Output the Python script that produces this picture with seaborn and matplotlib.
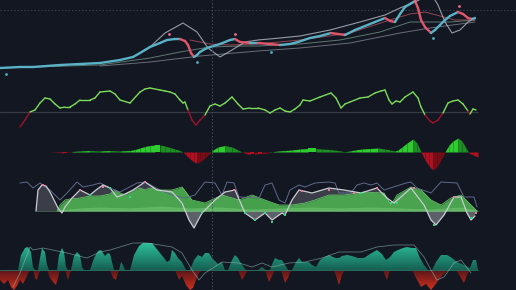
import numpy as np
import matplotlib
matplotlib.use("Agg")
import matplotlib.pyplot as plt
import seaborn as sns
from matplotlib.colors import LinearSegmentedColormap

BG = "#131722"

# ---------------- data ----------------
# Panel 1: price (height units) and moving averages
price_x = [0,20,33,60,100,120,133,140,145,150,160,167,175,180,185,188,191,194,197,200,205,210,220,230,235,240,250,258,270,280,290,298,310,320,331,338,345,355,365,375,385,390,395,400,405,410,415,418,421,425,431,435,440,445,450,458,463,468,472,475]
price_v = [12,13,13,15,17,20,23,27,30,33,37,40,41,41,39,35,27,23,25,28,31,33,36,40,41,38,37,37,36,35,36,38,42,44,47,46,45,50,54,58,62,59,58,66,73,76,79,72,60,53,47,50,55,60,64,68,66,62,61,62]

ma1_x = [150,165,183,197,208,220,232,245,258,280,300,330,360,385,400,415,425,432,438,445,452,460,468,475]
ma1_v = [33,47,57,48,32,23,30,38,40,42,44,50,58,65,72,78,83,85,75,58,47,50,58,62]
ma2_x = [0,100,150,180,210,240,258,300,340,380,410,430,450,475]
ma2_v = [12,15,22,28,33,34,34,36,40,48,58,58,58,60]
ma3_x = [100,150,200,258,300,350,400,430,475]
ma3_v = [14,18,24,29,32,37,47,52,58]
ma4_x = [190,210,230,258,300,350,390,410,425,440,455,475]
ma4_v = [40,36,35,36,40,47,60,66,68,64,60,60]

dot_x = [6,169,197,235,271,415,433,459]
dot_v = [6,46,18,46,28,79,42,74]
dot_kind = ["up","dn","up","dn","up","dn","up","dn"]

# Panel 2: oscillator
osc_x = [20,25,30,35,40,45,50,55,60,65,70,75,80,90,95,100,110,115,120,130,140,145,150,160,165,170,175,180,183,185,188,192,196,200,205,210,215,220,225,232,238,243,250,258,265,270,275,280,285,290,295,300,303,310,320,331,336,341,345,350,360,368,375,381,385,389,392,396,400,405,413,418,421,425,430,433,438,443,448,453,458,463,468,470,473,476]
osc_v = [-15,-8,0,2,9,14,13,8,4,5,5,8,12,12,14,20,21,18,12,9,20,23,24,22,21,20,18,12,9,10,2,-8,-13,-8,-3,6,8,6,9,15,8,3,4,4,2,-1,2,4,1,0,3,7,12,11,15,19,14,4,8,10,14,15,19,21,22,12,8,11,10,15,20,14,5,-3,-9,-11,-8,-1,9,11,12,8,1,-2,3,2]

# Panel 3: histogram
hist_x = [50,58,63,67,72,80,90,100,110,120,130,135,140,145,150,155,160,165,170,175,180,183,186,190,194,197,200,205,210,213,218,225,232,238,242,246,250,254,258,262,266,270,274,278,285,292,300,308,316,322,330,338,345,350,355,362,370,378,385,390,395,398,402,407,413,417,421,425,429,433,437,441,445,449,453,458,462,466,469,473,478]
hist_v = [0,-0.5,-1,-1,0.5,1,1.5,1,1.5,1,1.5,2.5,4,5.5,6.5,7,7,6,4.5,3,1.5,0,-3,-7,-10,-11,-10,-6,-1,2,5,6.5,5,2,0,-1.5,-2.5,-2.5,-2,-2,-1.5,-0.5,0.5,1,1.5,2,3,3.5,3.5,3,2.5,1.5,0.3,1,2,3,3.5,4,3,2,1,2,5,9,13,9,0,-8,-14,-18,-15,-8,0,7,11,14,11,4,-1,-3,-5]

# Panel 4: trend area + lines
green_x = [57,60,65,70,80,90,100,110,115,120,125,130,140,145,150,160,172,182,192,205,222,239,252,265,279,292,305,315,329,344,364,384,391,397,411,421,431,441,451,461,471,477]
green_v = [0,6,11,12,13,15,15,17,21,18,16,19,23,21,23,21,21,24,11,8,16,11,16,11,6,6,8,11,16,16,19,18,6,16,24,21,11,6,13,16,6,0]
lgreen_x = [57,80,100,130,160,190,220,250,280,310,340,370,400,430,460,478]
lgreen_v = [1,3,4,3,5,3,4,2,3,4,3,4,3,2,4,1]
white_x = [36,38,42,46,50,54,58,62,65,72,80,90,96,103,110,117,125,133,145,157,172,182,189,194,202,215,225,235,245,255,265,272,282,285,292,299,312,329,344,361,377,387,394,401,411,424,431,436,444,454,461,467,471,475]
white_v = [0,21,26,25,19,11,3,-2,4,13,21,16,21,26,23,14,17,21,29,21,19,8,-9,-17,-2,11,19,21,-2,-9,-2,-9,-2,-4,11,21,18,23,21,18,23,13,8,14,23,6,-9,-14,-4,14,14,-2,-9,-5]
slate_x = [20,27,33,40,50,60,67,77,83,93,100,110,120,137,145,160,172,185,195,205,215,222,227,234,239,259,265,272,279,285,290,299,305,315,329,335,339,351,357,364,371,377,384,406,411,417,431,441,457,464,474,477]
slate_v = [28,29,23,28,21,11,18,29,24,26,28,23,19,28,29,21,16,13,16,29,28,16,29,28,14,13,26,28,11,8,21,26,24,28,29,28,18,18,26,28,26,28,21,28,29,23,18,29,28,14,14,4]
mk_pink_x = [43,80,103,145,234,302,329,354,377,414,454,476]
mk_pink_v = [26,21,24,29,21,20,21,18,23,23,14,-2]
mk_green_x = [90,110,130,202,245,255,265,272,285,361,391,397,434,471]
mk_green_v = [16,23,14,-2,-2,-9,-2,-11,-4,18,8,8,-14,-7]

# Panel 5: volume-like flow
teal_x = [18,21,25,28,31,33,35,38,40,42,45,47,49,57,59,62,64,66,68,71,74,77,80,82,84,90,94,98,101,105,108,110,112,114,119,121,123,125,130,134,139,143,148,152,156,160,164,167,170,172,175,178,182,186,190,194,198,202,205,209,212,214,218,222,225,228,232,235,238,242,246,258,262,266,270,273,275,279,282,285,288,292,296,299,302,305,309,312,316,320,325,329,333,336,339,342,347,352,358,364,370,377,382,386,390,394,398,403,407,412,416,420,424,428,432,436,441,447,452,457,462,466,470,473,476,478]
teal_v = [0,15,22,23,18,3,0,0,12,22,18,5,0,0,15,22,18,3,0,0,14,18,15,3,0,0,12,19,20,14,17,16,8,0,0,8,5,0,0,15,24,27,27,27,22,17,12,8,10,20,17,12,8,0,0,10,15,13,17,17,12,10,6,8,0,0,10,15,12,5,0,0,3,0,0,8,12,10,10,5,0,0,8,12,8,8,8,5,3,10,13,15,13,12,12,14,15,14,12,12,16,20,16,10,13,18,20,22,23,22,22,12,5,0,0,8,15,15,12,8,6,4,2,10,10,0]
red_x = [0,4,8,11,14,17,20,23,26,29,31,33,35,37,39,41,47,50,53,56,58,60,65,68,70,72,110,113,116,118,120,175,179,182,186,190,193,196,199,202,238,242,245,248,265,269,272,275,281,285,288,291,334,339,342,345,383,387,390,412,416,421,426,431,436,440,444,448,456,461,464,467,470]
red_v = [-10,-14,-10,-17,-20,-16,-10,-14,-8,-2,0,0,-8,-10,-3,0,0,-8,-12,-15,-8,0,0,-10,-3,0,0,-8,-10,-3,0,0,-10,-6,-15,-20,-18,-10,-3,0,0,-10,-5,0,0,-12,-6,0,0,-13,-8,0,0,-15,-5,0,0,-10,0,0,-8,-17,-14,-20,-14,-8,-4,0,0,-8,-13,-5,0]
sig_x = [13,20,30,33,43,67,87,100,110,133,147,160,172,182,192,199,205,222,239,252,262,272,289,305,322,339,344,361,377,394,414,424,431,437,444,454,461,471]
sig_v = [-17,-3,23,20,22,17,12,18,20,27,27,25,23,17,0,-10,-3,8,7,3,7,3,7,8,12,18,18,18,23,25,25,13,0,-10,-7,7,10,-3]

# ---------------- styling ----------------
sns.set_theme(style="dark", rc={"axes.facecolor": BG, "figure.facecolor": BG,
                                "savefig.facecolor": BG})
W, H = 516, 290
fig = plt.figure(figsize=(W / 100, H / 100), dpi=100)


def panel(top, bottom, ylim):
    ax = fig.add_axes([0, 1 - bottom / H, 1, (bottom - top) / H])
    ax.set_xlim(0, W)
    ax.set_ylim(*ylim)
    ax.set_axis_off()
    return ax


def gradient_fill(ax, x, y, c_far, c_near, z=2, alpha=1.0):
    poly = ax.fill_between(x, y, 0, color="none", lw=0)
    yv = np.asarray(y, float)
    lo, hi = min(0, yv.min()), max(0, yv.max())
    far_is_top = abs(hi) >= abs(lo)
    grad = np.linspace(0, 1, 64).reshape(-1, 1)
    if not far_is_top:
        grad = grad[::-1]
    cmap = LinearSegmentedColormap.from_list("g", [c_near, c_far])
    xl, yl = ax.get_xlim(), ax.get_ylim()
    im = ax.imshow(grad, extent=[min(x), max(x), lo, hi], origin="lower",
                   aspect="auto", cmap=cmap, zorder=z, alpha=alpha)
    im.set_clip_path(poly.get_paths()[0], transform=ax.transData)
    ax.set_xlim(xl)
    ax.set_ylim(yl)


# ---- Panel 1
ax1 = panel(0, 80, (0, 80))
ax1.axhline(70, color="#3a3f4c", lw=0.7, ls=(0, (1.5, 2)))
for xs, vs, col, lw in [(ma2_x, ma2_v, "#6f8f84", 0.7), (ma3_x, ma3_v, "#7d828d", 0.7),
                        (ma4_x, ma4_v, "#b0505e", 0.7), (ma1_x, ma1_v, "#b8bcc6", 0.8)]:
    sns.lineplot(x=xs, y=vs, ax=ax1, color=col, lw=lw, alpha=0.8, legend=False)
for i in range(len(price_x) - 1):
    up = price_v[i + 1] >= price_v[i]
    ax1.plot(price_x[i:i + 2], price_v[i:i + 2], color="#5ab2c6" if up else "#e0566a",
             lw=1.7, solid_capstyle="round", zorder=4)
for x, v, k in zip(dot_x, dot_v, dot_kind):
    ax1.scatter([x], [v], s=4, color="#4fb0c6" if k == "up" else "#f06a8a", zorder=5, lw=0)
ax1.set_ylim(0, 80)

# ---- Panel 2
ax2 = panel(80, 135, (-23, 32))
ax2.plot([0, 478], [0, 0], color="#363a45", lw=0.9)
for i in range(len(osc_x) - 1):
    m = (osc_v[i] + osc_v[i + 1]) / 2
    ax2.plot(osc_x[i:i + 2], osc_v[i:i + 2], color="#7ddc5a" if m >= 0 else "#a0122a",
             lw=1.0, solid_capstyle="round")

# ---- Panel 3
ax3 = panel(135, 175, (-23, 17))
for i in range(len(hist_x) - 1):
    v0, v1 = hist_v[i], hist_v[i + 1]
    m = (v0 + v1) / 2
    if m >= 0:
        c = "#2ecc2e" if v1 >= v0 else "#1d8f24"
    else:
        c = "#b01020" if v1 <= v0 else "#7a0c16"
    ax3.fill_between(hist_x[i:i + 2], hist_v[i:i + 2], 0, color=c, lw=0)

# ---- Panel 4
ax4 = panel(175, 232, (-21, 36))
wx, wv = np.array(white_x), np.array(white_v)
ax4.fill_between(wx, wv, 0, where=wv >= 0, interpolate=True, color="#3b3e48", lw=0, zorder=1)
ax4.fill_between(wx, wv, 0, where=wv < 0, interpolate=True, color="#8e9199", alpha=0.6, lw=0, zorder=1)
ax4.fill_between(green_x, green_v, 0, color="#4caf50", alpha=0.9, lw=0, zorder=2)
ax4.plot(green_x, green_v, color="#6fd36f", lw=0.5, zorder=2)
ax4.fill_between(lgreen_x, lgreen_v, 0, color="#9be89b", alpha=0.3, lw=0, zorder=3)
sns.lineplot(x=slate_x, y=slate_v, ax=ax4, color="#5d6a8a", lw=0.7, legend=False, zorder=3)
sns.lineplot(x=white_x, y=white_v, ax=ax4, color="#c9ccd3", lw=0.9, legend=False, zorder=4)
ax4.scatter(mk_pink_x, mk_pink_v, s=3, marker="s", color="#f07a9a", zorder=5, lw=0)
ax4.scatter(mk_green_x, mk_green_v, s=3, marker="s", color="#30d880", zorder=5, lw=0)
ax4.plot([36, 478], [0, 0], color="#9be89b", lw=0.5, alpha=0.45)
ax4.set_xlim(0, W)
ax4.set_ylim(-21, 36)

# ---- Panel 5
ax5 = panel(232, 290, (-20, 38))
gradient_fill(ax5, teal_x, teal_v, "#2bbf9a", "#166052", z=2)
gradient_fill(ax5, red_x, red_v, "#d0301e", "#5a161a", z=2)
ax5.plot([0, 478], [0, 0], color="#2a6a5e", lw=0.7, zorder=3)
sns.lineplot(x=sig_x, y=sig_v, ax=ax5, color="#8fbcb0", lw=0.6, alpha=0.6, legend=False, zorder=4)
ax5.set_xlim(0, W)
ax5.set_ylim(-20, 38)

# ---- crosshair
axo = fig.add_axes([0, 0, 1, 1])
axo.set_xlim(0, W)
axo.set_ylim(H, 0)
axo.set_axis_off()
axo.patch.set_alpha(0)
axo.axvline(212, color="#4a4f5c", lw=0.7, ls=(0, (1.5, 2)))

fig.savefig("out.png", dpi=100, facecolor=BG)
